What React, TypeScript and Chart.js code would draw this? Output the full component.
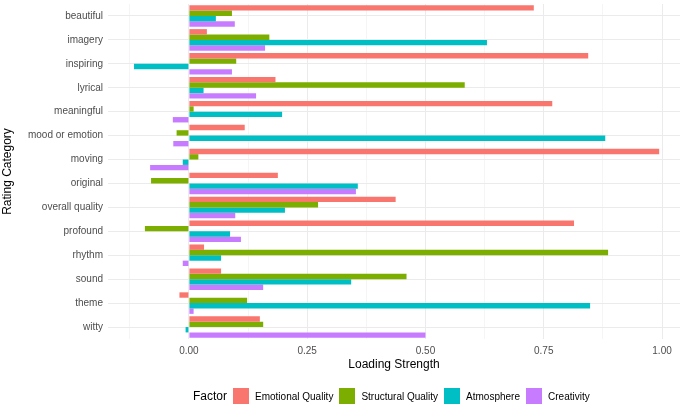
import React, { useEffect, useRef } from 'react';
import { Chart, registerables } from 'chart.js';

Chart.register(...registerables);

const categories = [
    'beautiful',
    'imagery',
    'inspiring',
    'lyrical',
    'meaningful',
    'mood or emotion',
    'moving',
    'original',
    'overall quality',
    'profound',
    'rhythm',
    'sound',
    'theme',
    'witty',
];

const factorNames = ['Emotional Quality', 'Structural Quality', 'Atmosphere', 'Creativity'];
const factorColors = ['#F8766D', '#7CAE00', '#00BFC4', '#C77CFF'];

const emotionalQuality = [0.729, 0.038, 0.844, 0.183, 0.768, 0.118, 0.994, 0.188, 0.437, 0.814, 0.032, 0.068, -0.02, 0.15];
const structuralQuality = [0.091, 0.17, 0.1, 0.583, 0.01, -0.026, 0.02, -0.08, 0.273, -0.093, 0.886, 0.46, 0.123, 0.157];
const atmosphere = [0.057, 0.63, -0.116, 0.031, 0.197, 0.88, -0.013, 0.357, 0.203, 0.087, 0.068, 0.343, 0.848, -0.007];
const creativity = [0.097, 0.161, 0.091, 0.142, -0.034, -0.033, -0.082, 0.353, 0.098, 0.11, -0.013, 0.157, 0.01, 0.5];

// major + minor breaks, as ggplot draws them
const xTicks = [-0.125, 0, 0.125, 0.25, 0.375, 0.5, 0.625, 0.75, 0.875, 1.0];
const xMajorTicks = [0, 0.25, 0.5, 0.75, 1.0];

const FONT = '"Liberation Sans", Arial, sans-serif';

const isMajor = (v: number) => xMajorTicks.some((m) => Math.abs(m - v) < 1e-9);

const App: React.FC = () => {
    const chartRef = useRef<HTMLCanvasElement | null>(null);
    const chartInstanceRef = useRef<Chart | null>(null);

    useEffect(() => {
        document.body.style.margin = '0';
        if (!chartRef.current) return;
        const ctx = chartRef.current.getContext('2d');
        if (!ctx) return;
        if (chartInstanceRef.current) chartInstanceRef.current.destroy();

        const series = [emotionalQuality, structuralQuality, atmosphere, creativity];

        chartInstanceRef.current = new Chart(ctx, {
            type: 'bar',
            data: {
                labels: categories,
                datasets: series.map((values, i) => ({
                    label: factorNames[i],
                    data: values,
                    backgroundColor: factorColors[i],
                    borderWidth: 0,
                    categoryPercentage: 0.9,
                    barPercentage: 1.0,
                })),
            },
            options: {
                indexAxis: 'y',
                responsive: false,
                animation: false,
                layout: { padding: { top: 4, right: 5, bottom: 31, left: 0 } },
                plugins: {
                    legend: { display: false },
                    tooltip: { enabled: false },
                },
                scales: {
                    x: {
                        type: 'linear',
                        min: -0.171,
                        max: 1.038,
                        afterBuildTicks: (scale: any) => {
                            scale.ticks = xTicks.map((value) => ({ value }));
                        },
                        afterFit: (scale: any) => {
                            scale.height = 34;
                        },
                        border: { display: false },
                        grid: {
                            drawTicks: false,
                            color: (c: any) => (isMajor(c.tick?.value) ? '#EBEBEB' : '#F5F5F5'),
                            lineWidth: 1,
                        },
                        ticks: {
                            autoSkip: false,
                            maxRotation: 0,
                            padding: 6,
                            color: '#4D4D4D',
                            font: { size: 10, family: FONT },
                            callback: (v: any) => (isMajor(Number(v)) ? Number(v).toFixed(2) : ''),
                        },
                        title: {
                            display: true,
                            text: 'Loading Strength',
                            color: '#000000',
                            font: { size: 12, family: FONT },
                            padding: { top: 0, bottom: 1 },
                        },
                    },
                    y: {
                        type: 'category',
                        afterFit: (scale: any) => {
                            scale.width = 108;
                            scale.paddingTop = 0;
                            scale.paddingBottom = 0;
                        },
                        border: { display: false },
                        grid: {
                            offset: false,
                            drawTicks: false,
                            color: '#EBEBEB',
                            lineWidth: 1,
                        },
                        ticks: {
                            padding: 5,
                            color: '#4D4D4D',
                            font: { size: 10, family: FONT },
                        },
                        title: {
                            display: true,
                            text: 'Rating Category',
                            color: '#000000',
                            font: { size: 12, family: FONT },
                            padding: { top: 0, bottom: 0 },
                        },
                    },
                },
            },
        });

        return () => {
            if (chartInstanceRef.current) {
                chartInstanceRef.current.destroy();
                chartInstanceRef.current = null;
            }
        };
    }, []);

    return (
        <div style={{ position: 'relative', width: 685, height: 404, background: '#ffffff', fontFamily: FONT }}>
            <canvas ref={chartRef} width={685} height={404} style={{ display: 'block' }}></canvas>
            <div
                style={{
                    position: 'absolute',
                    left: 193,
                    top: 388,
                    height: 16,
                    display: 'flex',
                    alignItems: 'center',
                    whiteSpace: 'nowrap',
                }}
            >
                <span style={{ fontSize: 12, color: '#000', marginRight: 6 }}>Factor</span>
                {factorNames.map((name, i) => (
                    <React.Fragment key={name}>
                        <span style={{ display: 'inline-block', width: 16, height: 16, background: factorColors[i], marginRight: 6 }}></span>
                        <span style={{ fontSize: 10, color: '#000', marginRight: 6 }}>{name}</span>
                    </React.Fragment>
                ))}
            </div>
        </div>
    );
};

export default App;
